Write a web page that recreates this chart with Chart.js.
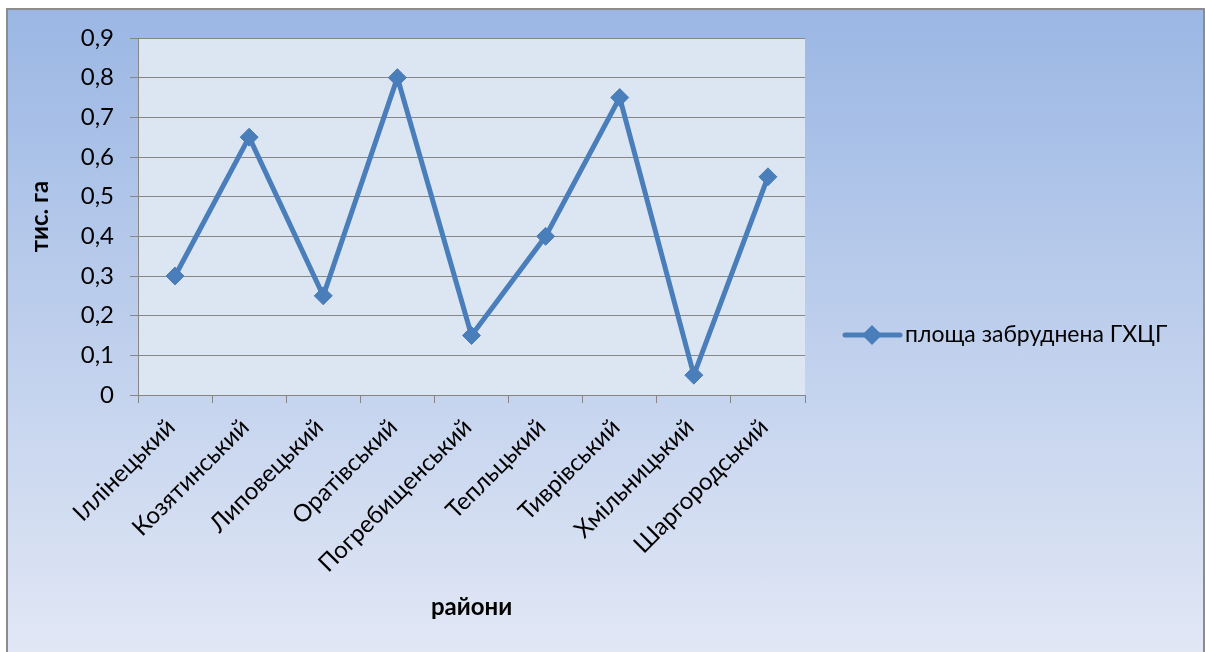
<!DOCTYPE html>
<html>
<head>
<meta charset="utf-8">
<script src="https://cdn.jsdelivr.net/npm/chart.js@4.4.1/dist/chart.umd.min.js"></script>
<style>
    body { margin: 0; background: #fff; }
    #frame {
        position: absolute; left: 6px; top: 8px; width: 1195px; height: 700px;
        border: 2px solid #8c8c8c;
        background: linear-gradient(#9bb7e4 0px, #e1e7f5 640px);
    }
    #myChart { position: absolute; left: 0; top: 0; }
</style>
</head>
<body>
<div id="frame"></div>
<canvas id="myChart" width="1205" height="652"></canvas>
<script>
// райони та площа, забруднена ГХЦГ (тис. га)
var districts = ['Іллінецький', 'Козятинський', 'Липовецький', 'Оратівський', 'Погребищенський',
    'Тепльцький', 'Тиврівський', 'Хмільницький', 'Шаргородський'];
var area = [0.3, 0.65, 0.25, 0.8, 0.15, 0.4, 0.75, 0.05, 0.55];
var yTickLabels = ['0', '0,1', '0,2', '0,3', '0,4', '0,5', '0,6', '0,7', '0,8', '0,9'];

var lineColor = '#4a7ebb';
var gridColor = '#868686';
var fontFamily = 'Lato, "Open Sans", sans-serif';

// light fill behind the plot area
var plotFill = {
    id: 'plotFill',
    beforeDraw: function (chart) {
        var a = chart.chartArea;
        var ctx = chart.ctx;
        ctx.save();
        ctx.fillStyle = '#dce6f2';
        ctx.fillRect(a.left, a.top, a.right - a.left, a.bottom - a.top);
        ctx.restore();
    }
};

// legend to the right of the plot: line with a diamond, then the series name
var sideLegend = {
    id: 'sideLegend',
    afterDraw: function (chart) {
        var ctx = chart.ctx;
        var ds = chart.data.datasets[0];
        var x = chart.chartArea.right + 40;
        var y = 335;
        ctx.save();
        ctx.strokeStyle = ds.borderColor;
        ctx.lineWidth = 5;
        ctx.lineCap = 'round';
        ctx.beginPath(); ctx.moveTo(x, y); ctx.lineTo(x + 55, y); ctx.stroke();
        ctx.fillStyle = ds.borderColor;
        ctx.beginPath();
        ctx.moveTo(x + 27, y - 10); ctx.lineTo(x + 37, y); ctx.lineTo(x + 27, y + 10); ctx.lineTo(x + 17, y);
        ctx.closePath(); ctx.fill();
        ctx.fillStyle = '#000';
        ctx.font = '23px ' + fontFamily;
        ctx.textBaseline = 'middle';
        ctx.fillText(ds.label, x + 60, y);
        ctx.restore();
    }
};

var ctx = document.getElementById('myChart').getContext('2d');
var myChart = new Chart(ctx, {
    type: 'line',
    data: {
        labels: districts,
        datasets: [{
            label: 'площа забруднена ГХЦГ',
            data: area,
            borderColor: lineColor,
            backgroundColor: lineColor,
            borderWidth: 5,
            tension: 0,
            pointStyle: 'rectRot',
            pointRadius: 9,
            pointBorderWidth: 1
        }]
    },
    options: {
        responsive: false,
        animation: false,
        layout: {
            padding: { top: 38, bottom: 20, left: 0, right: 400 }
        },
        plugins: {
            legend: { display: false },
            tooltip: { enabled: false }
        },
        scales: {
            x: {
                offset: true,
                grid: { offset: true, drawOnChartArea: false, color: gridColor, tickLength: 8 },
                border: { color: gridColor },
                ticks: {
                    color: '#000',
                    font: { family: fontFamily, size: 24 },
                    maxRotation: 45,
                    minRotation: 45,
                    autoSkip: false,
                    padding: 10,
                    labelOffset: -4
                },
                title: {
                    display: true,
                    text: 'райони',
                    color: '#000',
                    font: { family: fontFamily, size: 24, weight: 'bold' },
                    padding: { top: 0, bottom: 10 }
                },
                afterFit: function (scale) { scale.height = 237; }
            },
            y: {
                min: 0,
                max: 0.9,
                grid: { color: gridColor, tickLength: 8 },
                border: { color: gridColor },
                ticks: {
                    stepSize: 0.1,
                    padding: 16,
                    color: '#000',
                    font: { family: fontFamily, size: 24 },
                    callback: function (value, index) { return yTickLabels[index]; }
                },
                title: {
                    display: true,
                    text: 'тис. га',
                    color: '#000',
                    font: { family: fontFamily, size: 24, weight: 'bold' },
                    padding: { top: 26, bottom: 0 }
                },
                afterFit: function (scale) { scale.width = 138; }
            }
        }
    },
    plugins: [plotFill, sideLegend]
});
</script>
</body>
</html>
